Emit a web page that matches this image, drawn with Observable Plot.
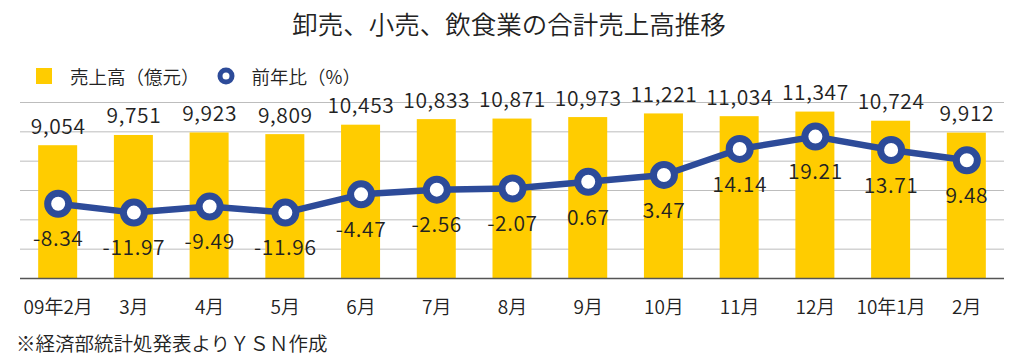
<!DOCTYPE html>
<html>
<head>
<meta charset="utf-8">
<script src="https://cdn.jsdelivr.net/npm/d3@7"></script>
<script src="https://cdn.jsdelivr.net/npm/@observablehq/plot@0.6"></script>
<style>
  html, body { margin: 0; padding: 0; background: #fff; }
  body { width: 1026px; height: 358px; position: relative; overflow: hidden;
         font-family: "Noto Sans CJK JP", "Noto Sans", sans-serif; color: #222; font-weight: 350; }
  #chart { position: absolute; left: 0; top: 0; }
  #title { position: absolute; left: 0; width: 1018px; top: 6px; text-align: center;
           font-size: 25.5px; line-height: 34px; }
  #legend { position: absolute; left: 36px; top: 62px; font-size: 18.5px; line-height: 28px;
            display: flex; align-items: center; }
  #legend .sq { width: 16px; height: 16px; background: #FFCC00; display: inline-block; margin-right: 18px; }
  #legend svg { margin-left: 16px; margin-right: 16px; }
  #caption { position: absolute; left: 16px; top: 329px; font-size: 19.5px; line-height: 28px; }
  #chart text { font-weight: 350; }
  #chart .num text { letter-spacing: 0.6px; }
</style>
</head>
<body>
<div id="chart"></div>
<div id="title">卸売、小売、飲食業の合計売上高推移</div>
<div id="legend"><span class="sq"></span><span>売上高（億元）</span><svg width="20" height="20"><circle cx="10" cy="10" r="6" fill="#fff" stroke="#2D4B99" stroke-width="5"></circle></svg><span>前年比（%）</span></div>
<div id="caption">※経済部統計処発表よりＹＳＮ作成</div>
<script>
const months = ["09年2月","3月","4月","5月","6月","7月","8月","9月","10月","11月","12月","10年1月","2月"];
const sales = [9054, 9751, 9923, 9809, 10453, 10833, 10871, 10973, 11221, 11034, 11347, 10724, 9912];
const yoy = [-8.34, -11.97, -9.49, -11.96, -4.47, -2.56, -2.07, 0.67, 3.47, 14.14, 19.21, 13.71, 9.48];
const salesTicks = [2000, 4000, 6000, 8000, 10000, 12000];

const salesMax = 12000;
const yoyLo = -39, yoyHi = 33.2;
const toLeft = v => (v - yoyLo) / (yoyHi - yoyLo) * salesMax;

const rows = months.map((m, i) => ({month: m, sales: sales[i], yoy: yoy[i], yoyPos: toLeft(yoy[i])}));
const fmt = d3.format(",");
const blue = "#2D4B99";
const font = "Noto Sans CJK JP, Noto Sans, sans-serif";

const chart = Plot.plot({
  width: 1026,
  height: 320,
  marginTop: 102,
  marginBottom: 42,
  marginLeft: 20,
  marginRight: 22,
  style: {fontFamily: font, color: "#222", background: "transparent", overflow: "visible"},
  x: {domain: months, paddingInner: 0.485, paddingOuter: 0.24, round: false, label: null},
  y: {domain: [0, salesMax], axis: null},
  marks: [
    Plot.ruleY(salesTicks, {stroke: "#bdbdbd", strokeWidth: 1}),
    Plot.barY(rows, {x: "month", y: "sales", fill: "#FFCC00"}),
    Plot.ruleY([0], {stroke: "#555", strokeWidth: 1.5}),
    Plot.axisX({tickSize: 0, tickPadding: 29, fontSize: 19, lineAnchor: "middle", label: null, fill: "#222"}),
    Plot.text(rows, {x: "month", y: "sales", text: d => fmt(d.sales), dy: -12, lineAnchor: "bottom", fontSize: 21, fill: "#222", className: "num"}),
    Plot.line(rows, {x: "month", y: "yoyPos", stroke: blue, strokeWidth: 6.5, strokeLinejoin: "round"}),
    Plot.dot(rows, {x: "month", y: "yoyPos", r: 10.5, fill: "#fff", stroke: blue, strokeWidth: 7}),
    Plot.text(rows, {x: "month", y: "yoyPos", text: d => d.yoy.toFixed(2), dy: 36, lineAnchor: "middle", fontSize: 21, fill: "#222", className: "num"})
  ]
});
document.getElementById("chart").appendChild(chart);
</script>
</body>
</html>
